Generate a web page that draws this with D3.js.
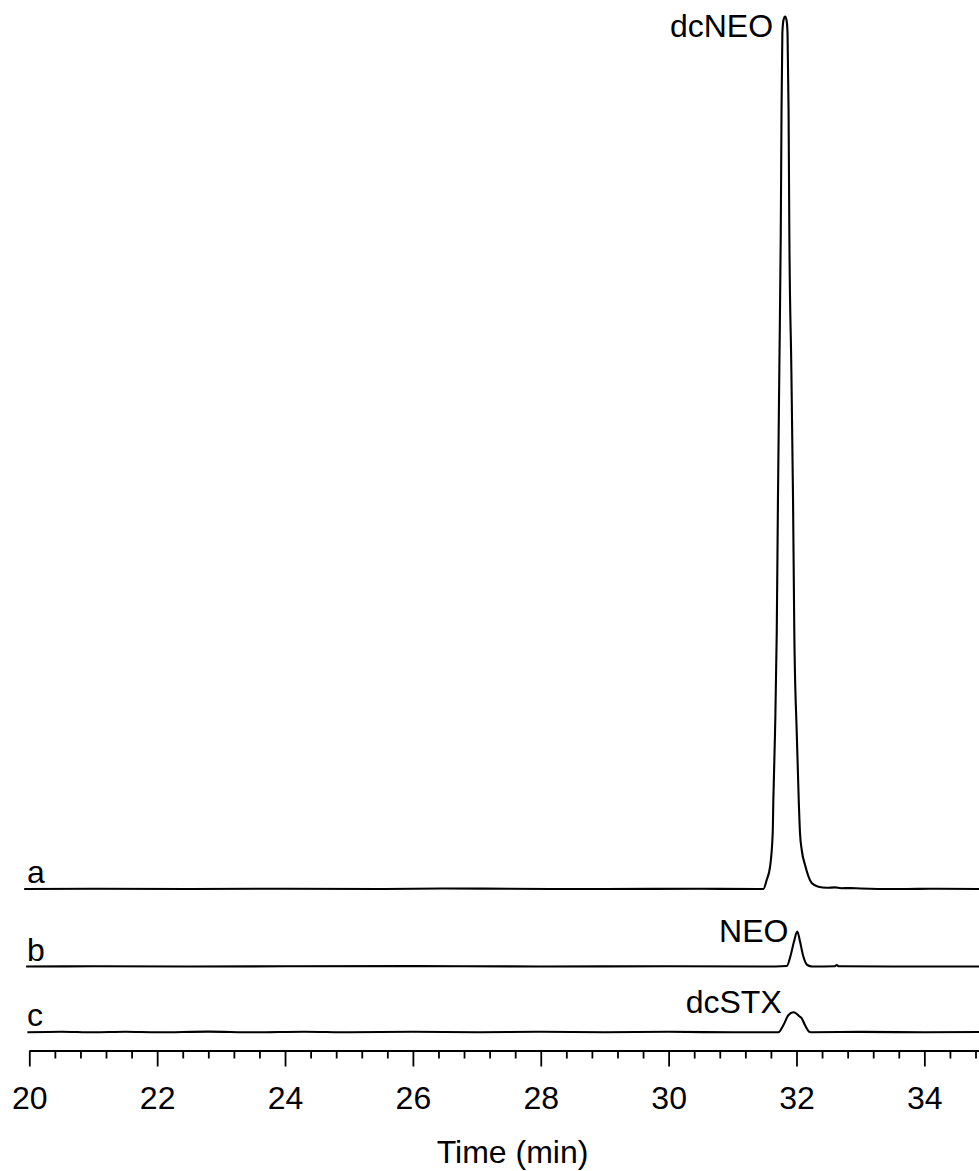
<!DOCTYPE html>
<html>
<head>
<meta charset="utf-8">
<script src="https://cdn.jsdelivr.net/npm/d3@7"></script>
<style>
  html, body { margin: 0; padding: 0; background: #fff; }
  svg { display: block; }
  text { font-family: Arial, "Liberation Sans", sans-serif; fill: #000; }
</style>
</head>
<body>
<svg id="chart" width="979" height="1171"></svg>
<script>
// ---- data (time in min, signal height above each trace's baseline) ----
const traceNames = ["a", "b", "c"];
const traceOffsets = [162, 84.5, 18.7];

const traceA = [
  [19.92, 0], [21.0, 0.3], [22.5, 0], [24.0, 0.3], [25.5, 0], [26.5, 0.5], [27.5, 0.2], [29.0, 0], [30.5, 0.2],
  [31.40, 0], [31.481, 0], [31.534, 9], [31.586, 22], [31.628, 56], [31.638, 89], [31.664, 156],
  [31.691, 256], [31.710, 389], [31.732, 522], [31.754, 656], [31.766, 779], [31.779, 856],
  [31.797, 869], [31.821, 872.5], [31.844, 869], [31.860, 856], [31.876, 779], [31.888, 656],
  [31.919, 522], [31.946, 389], [31.966, 256], [32.004, 156], [32.035, 89], [32.055, 56],
  [32.082, 39], [32.134, 24], [32.238, 6], [32.342, 2.3], [32.473, 1.2], [32.60, 1.6],
  [32.70, 0.8], [32.837, 0.9], [33.0, 0.5], [33.15, 0.3], [33.6, 0], [34.2, 0.2], [34.9, 0]
];
const traceB = [
  [19.95, 0], [21.0, 0.2], [22.5, 0], [24.0, 0.2], [26.0, 0.4], [28.0, 0], [30.0, 0.2], [31.5, 0],
  [31.847, 0.5], [31.910, 11.5], [31.961, 25], [32.013, 35], [32.055, 25], [32.107, 10],
  [32.170, 1.5], [32.243, 0], [32.60, 0.3], [32.63, 1.5], [32.66, 0.2], [33.5, 0], [34.9, 0]
];
const traceC = [
  [19.97, 0], [20.5, 0.6], [21.0, 0], [21.5, 0.5], [22.0, 0], [22.8, 0.7], [23.5, 0], [24.3, 0.6],
  [25.0, 0], [26.0, 0.6], [27.0, 0], [28.0, 0.5], [29.0, 0], [30.0, 0.5], [31.0, 0], [31.716, 0],
  [31.794, 7], [31.872, 17], [31.951, 20], [31.993, 19], [32.044, 16], [32.082, 14], [32.134, 7],
  [32.201, 0.6], [32.243, 0], [33.0, 0.4], [34.0, 0], [34.9, 0.3]
];
const traces = [traceA, traceB, traceC];

const peakLabels = ["dcNEO", "NEO", "dcSTX"];
const peakLabelTimes = [31.633, 31.873, 31.769];
const peakLabelHeights = [852, 24.8, 19];

const majorTicks = [20, 22, 24, 26, 28, 30, 32, 34];
const minorTicks = [20.4, 20.8, 21.2, 21.6, 22.4, 22.8, 23.2, 23.6, 24.4, 24.8, 25.2, 25.6,
  26.4, 26.8, 27.2, 27.6, 28.4, 28.8, 29.2, 29.6, 30.4, 30.8, 31.2, 31.6, 32.4, 32.8, 33.2, 33.6,
  34.4, 34.8];
const xTitle = "Time (min)";

// ---- scales ----
const svg = d3.select("#chart");
const x = d3.scaleLinear().domain([20, 34.85]).range([29.3, 978.7]);
const y = d3.scaleLinear().domain([0, 1040]).range([1051, 11]);
const axisY = 1050.5;

const line = d3.line().x(d => x(d[0])).y(d => y(d[1])).curve(d3.curveMonotoneX);

// ---- traces ----
traces.forEach((tr, i) => {
  const off = traceOffsets[i];
  svg.append("path")
    .datum(tr.map(p => [p[0], p[1] + off]))
    .attr("d", line)
    .attr("fill", "none")
    .attr("stroke", "#000")
    .attr("stroke-width", 2.1)
    .attr("stroke-linejoin", "round");
  // trace letter label
  svg.append("text")
    .attr("x", 27)
    .attr("y", y(off) - 6)
    .attr("font-size", 32)
    .text(traceNames[i]);
  // peak label
  svg.append("text")
    .attr("x", x(peakLabelTimes[i]))
    .attr("y", y(off + peakLabelHeights[i]))
    .attr("text-anchor", "end")
    .attr("font-size", 32)
    .text(peakLabels[i]);
});

// ---- x axis ----
const gMinor = svg.append("g").attr("transform", `translate(0,${axisY})`)
  .call(d3.axisBottom(x).tickValues(minorTicks).tickSize(8).tickSizeOuter(0).tickFormat(""));
const gMajor = svg.append("g").attr("transform", `translate(0,${axisY})`)
  .call(d3.axisBottom(x).tickValues(majorTicks).tickSize(16).tickSizeOuter(0).tickPadding(20)
    .tickFormat(d3.format("d")));
[gMinor, gMajor].forEach(g => {
  g.selectAll("path.domain").attr("stroke", "#000").attr("stroke-width", 1.8);
  g.selectAll(".tick line").attr("stroke", "#000").attr("stroke-width", 1.8);
});
gMajor.selectAll(".tick text")
  .attr("font-size", 32)
  .attr("font-family", "Arial, 'Liberation Sans', sans-serif")
  .attr("fill", "#000");

svg.append("text")
  .attr("x", 512.5)
  .attr("y", 1163)
  .attr("text-anchor", "middle")
  .attr("font-size", 32)
  .text(xTitle);
</script>
</body>
</html>
